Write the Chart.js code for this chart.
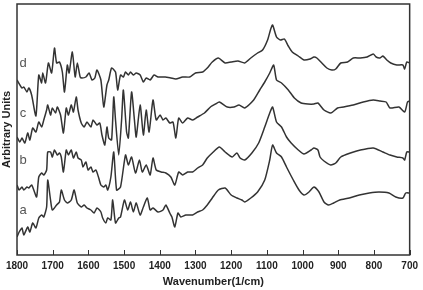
<!DOCTYPE html>
<html>
<head>
<meta charset="utf-8">
<script src="https://cdn.jsdelivr.net/npm/chart.js@4/dist/chart.umd.min.js"></script>
<style>
  html, body { margin: 0; padding: 0; background: #fff; }
  #wrap { width: 423px; height: 290px; }
</style>
</head>
<body>
<div id="wrap"><canvas id="chart" width="423" height="290"></canvas></div>
<script>
// FTIR spectra, four samples stacked (a bottom .. d top)
const dWave = [1800,1786,1781,1772,1767,1759,1747,1739,1731,1728,1720,1712,1703,1695,1689,1681,1673,1667,1659,1654,1645,1637,1631,1623,1618,1607,1598,1590,1582,1576,1565,1557,1548,1543,1535,1524,1518,1510,1502,1496,1488,1482,1474,1466,1455,1446,1438,1427,1416,1405,1385,1369,1355,1336,1316,1300,1280,1267,1253,1236,1217,1200,1181,1162,1145,1126,1112,1098,1090,1084,1073,1062,1051,1040,1029,1012,996,979,968,960,946,932,918,907,893,874,858,838,819,802,794,783,775,764,753,736,719,714,708,700];
const dVal = [175,167,168,163,167,160,139,180,172,182,172,192,182,207,192,193,183,163,190,182,203,178,192,178,177,178,182,175,177,185,175,148,170,175,187,183,165,180,178,183,180,183,180,182,180,173,177,175,180,178,178,177,176,178,178,182,183,187,193,197,192,193,194,192,197,202,205,215,225,230,218,215,216,209,203,199,195,196,198,197,192,187,185,186,192,193,197,197,198,201,198,197,199,195,192,190,190,186,193,192];

const cWave = [1800,1792,1786,1778,1770,1764,1756,1747,1739,1731,1725,1717,1714,1706,1701,1692,1687,1678,1670,1662,1656,1648,1642,1634,1629,1620,1612,1604,1593,1587,1576,1568,1562,1554,1548,1543,1535,1529,1524,1515,1507,1502,1493,1488,1479,1471,1466,1455,1446,1438,1430,1419,1410,1399,1391,1383,1372,1363,1355,1347,1336,1322,1308,1294,1275,1258,1244,1233,1211,1192,1178,1162,1137,1120,1106,1092,1081,1073,1059,1040,1023,1004,985,968,957,940,921,902,885,858,830,802,783,766,755,730,714,706,700];
const cVal = [118,113,117,112,122,115,127,123,133,128,135,145,150,140,147,142,148,140,122,147,140,150,143,158,145,132,128,133,128,135,130,132,120,110,128,117,115,158,135,100,135,165,123,117,163,135,118,150,120,145,123,155,135,140,135,137,132,133,117,137,132,137,135,138,142,148,151,153,148,148,150,147,155,165,173,182,190,175,172,165,157,152,151,151,152,145,142,147,148,150,153,155,154,153,147,148,143,153,154];

const bWave = [1800,1794,1786,1781,1772,1767,1759,1753,1745,1739,1731,1725,1717,1714,1706,1701,1695,1687,1681,1676,1670,1662,1656,1648,1642,1634,1629,1620,1615,1607,1601,1593,1587,1579,1571,1565,1557,1551,1546,1537,1529,1521,1510,1496,1488,1479,1468,1457,1449,1438,1427,1419,1410,1396,1383,1369,1358,1347,1336,1322,1308,1294,1280,1267,1253,1233,1217,1197,1184,1175,1162,1142,1123,1106,1092,1084,1073,1059,1045,1032,1012,996,976,968,957,951,940,921,907,893,866,838,802,775,755,736,719,714,708,700];
const bVal = [70,65,68,65,68,67,70,65,58,78,82,80,85,103,103,98,105,100,102,98,83,105,100,105,97,103,97,95,88,93,85,88,83,85,77,70,68,70,65,78,103,65,68,100,90,98,82,95,83,90,80,97,85,83,82,78,70,83,80,83,83,87,90,97,102,108,103,98,102,97,95,102,112,128,142,148,133,128,118,112,105,101,105,107,105,98,94,90,92,98,102,105,107,103,100,98,97,95,103,103];

const aWave = [1800,1794,1786,1781,1770,1764,1756,1747,1739,1731,1725,1717,1714,1706,1701,1689,1681,1676,1667,1659,1648,1640,1631,1620,1612,1604,1593,1584,1576,1565,1560,1551,1546,1537,1532,1524,1515,1510,1499,1490,1482,1474,1466,1455,1446,1435,1427,1419,1405,1391,1383,1372,1366,1358,1349,1341,1327,1308,1294,1280,1267,1253,1236,1217,1200,1184,1170,1162,1145,1126,1106,1092,1084,1073,1059,1045,1026,1010,996,982,968,954,940,927,913,896,869,841,813,786,758,739,719,711,700];
const aVal = [18,23,27,20,28,23,32,27,37,40,38,48,75,55,45,50,53,65,55,52,55,65,52,48,50,47,45,42,47,43,37,32,37,35,55,32,37,38,55,45,53,43,52,40,48,57,45,47,43,45,50,42,38,28,42,38,40,40,43,45,50,57,65,67,60,57,55,53,57,63,75,95,110,102,98,88,75,65,60,63,68,63,53,50,52,55,57,60,62,63,62,58,57,62,62];

// curve letters, placed in data coordinates
const curveNames = ['a', 'b', 'c', 'd'];
const nameWave = [1783, 1783, 1783, 1783];
const nameVal = [45, 95, 142, 192];

const xTicks = [1800, 1700, 1600, 1500, 1400, 1300, 1200, 1100, 1000, 900, 800, 700];

function toPoints(xs, ys) {
  return xs.map((x, i) => ({ x: x, y: ys[i] }));
}

const lineColor = '#333333';

function series(label, xs, ys) {
  return {
    label: label,
    data: toPoints(xs, ys),
    borderColor: lineColor,
    borderWidth: 1.5,
    pointRadius: 0,
    tension: 0.2,
    fill: false
  };
}

// frame, inward ticks and curve letters
const framePlugin = {
  id: 'frame',
  afterDraw(chart) {
    const ctx = chart.ctx;
    const area = chart.chartArea;
    const xs = chart.scales.x;
    const ys = chart.scales.y;
    ctx.save();
    ctx.strokeStyle = '#333';
    ctx.lineWidth = 1.5;
    ctx.strokeRect(area.left, area.top, area.right - area.left, area.bottom - area.top);
    ctx.lineWidth = 1;
    xTicks.forEach(v => {
      const px = Math.round(xs.getPixelForValue(v)) + 0.5;
      ctx.beginPath();
      ctx.moveTo(px, area.bottom);
      ctx.lineTo(px, area.bottom - 5);
      ctx.stroke();
    });
    ctx.fillStyle = '#555';
    ctx.font = '13px "Liberation Sans", Arial, sans-serif';
    ctx.textAlign = 'center';
    ctx.textBaseline = 'middle';
    curveNames.forEach((n, i) => {
      ctx.fillText(n, xs.getPixelForValue(nameWave[i]), ys.getPixelForValue(nameVal[i]));
    });
    ctx.restore();
  }
};

new Chart(document.getElementById('chart'), {
  type: 'line',
  data: {
    datasets: [
      series('a', aWave, aVal),
      series('b', bWave, bVal),
      series('c', cWave, cVal),
      series('d', dWave, dVal)
    ]
  },
  options: {
    responsive: false,
    animation: false,
    devicePixelRatio: 1,
    layout: { padding: { top: 4, right: 7, left: 0, bottom: 0 } },
    plugins: {
      legend: { display: false },
      tooltip: { enabled: false }
    },
    scales: {
      x: {
        type: 'linear',
        reverse: true,
        min: 700,
        max: 1800,
        grid: { display: false, drawTicks: false },
        border: { display: false },
        afterBuildTicks: scale => { scale.ticks = xTicks.map(v => ({ value: v })); },
        afterFit: scale => { scale.height = 35; },
        ticks: {
          padding: 5,
          maxRotation: 0,
          autoSkip: false,
          color: '#222',
          callback: v => String(v),
          font: { family: '"Liberation Sans", Arial, sans-serif', size: 10, weight: 'bold' }
        },
        title: {
          display: true,
          text: 'Wavenumber(1/cm)',
          color: '#222',
          padding: { top: 0, bottom: 1 },
          font: { family: '"Liberation Sans", Arial, sans-serif', size: 11, weight: 'bold' }
        }
      },
      y: {
        min: 0,
        max: 251,
        grid: { display: false, drawTicks: false },
        border: { display: false },
        ticks: { display: false },
        afterFit: scale => { scale.width = 17; },
        title: {
          display: true,
          text: 'Arbitrary Units',
          color: '#222',
          padding: { top: 0, bottom: 0 },
          font: { family: '"Liberation Sans", Arial, sans-serif', size: 11, weight: 'bold' }
        }
      }
    }
  },
  plugins: [framePlugin]
});
</script>
</body>
</html>
